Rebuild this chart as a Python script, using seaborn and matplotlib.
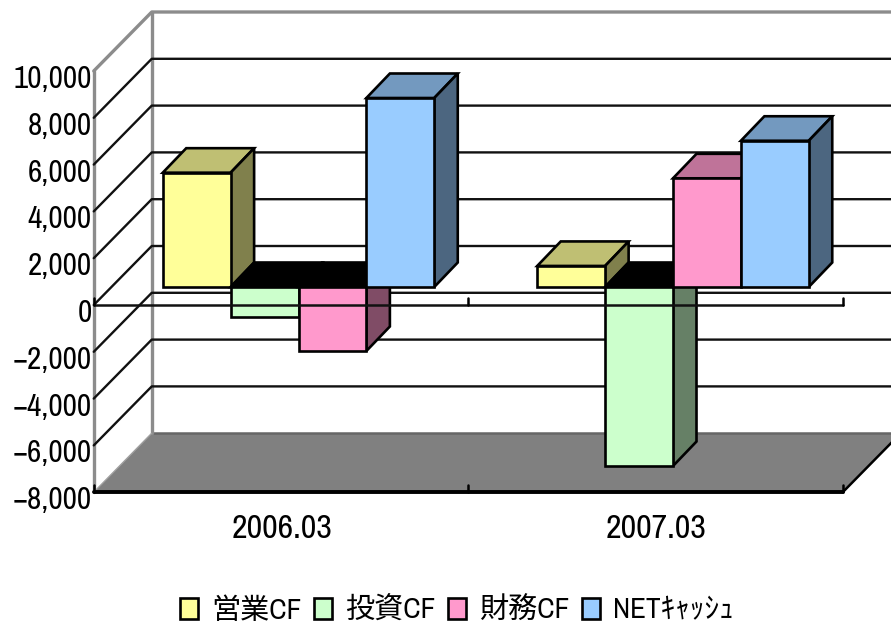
import pandas as pd
import matplotlib
matplotlib.use("Agg")
import matplotlib.pyplot as plt
from matplotlib.patches import Patch, Polygon
import seaborn as sns

# -----------------------------
# DATA
# -----------------------------
periods = ["2006.03", "2007.03"]
series_names = ["営業CF", "投資CF", "財務CF", "NETｷｬｯｼｭ"]
eigyo_cf = [4885, 900]
toshi_cf = [-1270, -7650]
zaimu_cf = [-2735, 4645]
net_cash = [8077, 6250]
y_ticks = [10000, 8000, 6000, 4000, 2000, 0, -2000, -4000, -6000, -8000]

front_colors = ["#FFFF99", "#CCFFCC", "#FF99CC", "#99CCFF"]
top_colors = ["#BFBF73", "#99BF99", "#BF7399", "#7399BF"]
side_colors = ["#80804C", "#668066", "#804C66", "#4C6680"]

# -----------------------------
# CONFIG
# -----------------------------
PX_X = 1 / 374.5       # category units per pixel
PX_Y = 1000 / 23.4     # value units per pixel
BAR_DX, BAR_DY = 23.5 * PX_X, 24.5 * PX_Y       # depth of a bar
FRONT_DX, FRONT_DY = -17.5 * PX_X, -18 * PX_Y   # front plane relative to bars
BACK_DX, BACK_DY = 40.5 * PX_X, 41 * PX_Y       # back wall relative to bars
X_MIN, X_MAX = -0.5, 1.5
EDGE = 1.9
FONT = ["Archivo Narrow", "Liberation Sans", "Noto Sans CJK JP", "DejaVu Sans"]

sns.set_theme(style="white")
plt.rcParams["font.family"] = FONT

df = pd.DataFrame({
    "period": periods * 4,
    "series": [s for s in series_names for _ in periods],
    "value": eigyo_cf + toshi_cf + zaimu_cf + net_cash,
})

fig = plt.figure(figsize=(8.91, 6.22), dpi=100)
ax = fig.add_axes([0, 0, 1, 1])
sns.barplot(data=df, x="period", y="value", hue="series", order=periods,
            hue_order=series_names, palette=front_colors, saturation=1,
            width=0.725, gap=0, errorbar=None, legend=False,
            edgecolor="black", linewidth=EDGE, ax=ax)
ax.set_xlim(-298.5 * PX_X, (891 - 298.5) * PX_X)
ax.set_ylim(-335 * PX_Y, 287 * PX_Y)
ax.axis("off")

# 3D faces of the bars, seaborn order is one series after the other
bars = list(ax.patches)
for i, bar in enumerate(bars):
    hue_idx = i // len(periods)
    x0, w, h = bar.get_x(), bar.get_width(), bar.get_height()
    top = max(h, 0)
    z = 3 + hue_idx
    bar.set_zorder(z + 0.2)
    top_face = [(x0, top), (x0 + BAR_DX, top + BAR_DY),
                (x0 + w + BAR_DX, top + BAR_DY), (x0 + w, top)]
    side_face = [(x0 + w, top), (x0 + w + BAR_DX, top + BAR_DY),
                 (x0 + w + BAR_DX, min(h, 0) + BAR_DY), (x0 + w, min(h, 0))]
    ax.add_patch(Polygon(top_face, closed=True, ec="black", lw=EDGE, zorder=z,
                         fc=top_colors[hue_idx] if h > 0 else "black"))
    ax.add_patch(Polygon(side_face, closed=True, ec="black", lw=EDGE, zorder=z,
                         fc=side_colors[hue_idx]))

# floor
lo, hi = min(y_ticks), max(y_ticks)
fl, fr = X_MIN + FRONT_DX, X_MAX + FRONT_DX
bl, br = X_MIN + BACK_DX, X_MAX + BACK_DX
ax.add_patch(Polygon([(fl, lo + FRONT_DY), (fr, lo + FRONT_DY),
                      (br, lo + BACK_DY), (bl, lo + BACK_DY)],
                     closed=True, fc="#808080", ec="none", zorder=1))
ax.plot([bl, br], [lo + BACK_DY] * 2, color="#666666", lw=1.8, zorder=1.2)

# walls and gridlines
wall = dict(color="#8C8C8C", lw=2.4, zorder=1.5, solid_capstyle="round")
ax.plot([fl, fl], [lo + FRONT_DY, hi + FRONT_DY], **wall)
ax.plot([bl, bl], [lo + BACK_DY, hi + BACK_DY], **wall)
ax.plot([fl, bl, br], [hi + FRONT_DY, hi + BACK_DY, hi + BACK_DY], **wall)
ax.plot([fl, bl], [lo + FRONT_DY, lo + BACK_DY], color="#A0A0A0", lw=1, zorder=1.5)
for tick in y_ticks[1:-1]:
    ax.plot([fl, bl, br], [tick + FRONT_DY, tick + BACK_DY, tick + BACK_DY],
            color="#111111", lw=1.7, zorder=1.6)

# front axes, the zero line runs over the bars
ax.plot([fl, fr], [FRONT_DY, FRONT_DY], color="#111111", lw=1.8, zorder=10)
ax.plot([fl, fr], [lo + FRONT_DY] * 2, color="black", lw=2.8, zorder=2)
ax.plot([fr, br], [lo + FRONT_DY, lo + BACK_DY], color="black", lw=1.8, zorder=2)
for x_tick in (fl, fl + 1, fr):
    ax.plot([x_tick, x_tick], [FRONT_DY, FRONT_DY + 7 * PX_Y], color="black", lw=1.8, zorder=10)
    ax.plot([x_tick, x_tick], [lo + FRONT_DY, lo + FRONT_DY + 7 * PX_Y],
            color="black", lw=1.8, zorder=2)

# labels
for tick in y_ticks:
    label = f"{tick:,}".replace("-", "−")
    ax.text(fl - 2 * PX_X, tick + FRONT_DY - 8 * PX_Y, label, ha="right", va="center",
            fontsize=22.5, color="black")
for i, period in enumerate(periods):
    ax.text(i + FRONT_DX + PX_X, lo + FRONT_DY - 37 * PX_Y, period, ha="center", va="center",
            fontsize=24.5, color="black")

handles = [Patch(fc=c, ec="black", lw=EDGE, label=n) for c, n in zip(front_colors, series_names)]
leg = fig.legend(handles=handles, ncol=4, loc="center", bbox_to_anchor=(457 / 891, 1 - 610 / 622),
                 frameon=False, fontsize=21, handlelength=0.6, handleheight=0.75,
                 handletextpad=0.45, columnspacing=0.45, borderpad=0)
for text in leg.get_texts():
    text.set_color("black")

fig.savefig("out.png", dpi=100)
